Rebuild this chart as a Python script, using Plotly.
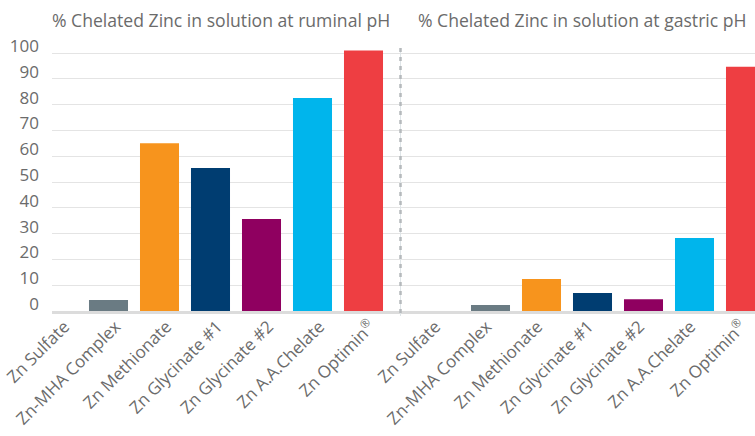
import plotly.graph_objects as go

categories = ["Zn Sulfate", "Zn-MHA Complex", "Zn Methionate", "Zn Glycinate #1",
              "Zn Glycinate #2", "Zn A.A.Chelate", "Zn Optimin<sup>®</sup>"]
ruminal_values = [0, 4.3, 65, 55.4, 35.7, 82.6, 101]
gastric_values = [0, 2.3, 12.4, 7.0, 4.6, 28.3, 94.7]
bar_colors = ["#6a7b83", "#6a7b83", "#f7941d", "#003d71", "#8f0060", "#00b5ec", "#ee3e42"]
y_ticks = [0, 10, 20, 30, 40, 50, 60, 70, 80, 90, 100]
titles = ["% Chelated Zinc in solution at ruminal pH", "% Chelated Zinc in solution at gastric pH"]

W, H = 755, 436
FONT = "Open Sans"
TXT = "#6b6b6b"

def px(x):
    return x / W

def py(y):
    return 1 - y / H

y0_px, unit = 311, 2.58
ytop = 104
ydom = [py(y0_px), py(y0_px - ytop * unit)]
step = 51.0
c_left, c_right = 57.5, 439.5

fig = go.Figure()
fig.add_trace(go.Bar(x=categories, y=ruminal_values, marker_color=bar_colors,
                     marker_line_width=0, xaxis="x", yaxis="y", showlegend=False))
fig.add_trace(go.Bar(x=categories, y=gastric_values, marker_color=bar_colors,
                     marker_line_width=0, xaxis="x2", yaxis="y2", showlegend=False))

xcommon = dict(type="category", showgrid=False, tickangle=-45, ticks="",
               tickfont=dict(family=FONT, size=17, color=TXT),
               ticklabelstandoff=-4,
               showline=True, linecolor="#dcdcdc", linewidth=3,
               automargin=False, fixedrange=True)
fig.update_layout(
    width=W, height=H,
    margin=dict(l=0, r=0, t=0, b=0),
    paper_bgcolor="white", plot_bgcolor="white",
    bargap=0.235,
    font=dict(family=FONT, color=TXT),
    xaxis=dict(domain=[px(52), px(400)],
               range=[(52 - c_left) / step, (400 - c_left) / step],
               anchor="y", ticklabelshift=7, **xcommon),
    xaxis2=dict(domain=[px(400), 1],
                range=[(400 - c_right) / step, (W - c_right) / step],
                anchor="y2", ticklabelshift=-4, **xcommon),
    yaxis=dict(domain=ydom, range=[0, ytop], tickvals=y_ticks,
               showgrid=True, gridcolor="#e4e4e4", gridwidth=1,
               zeroline=False, ticks="", ticklabelstandoff=12, ticklabelshift=-7,
               tickfont=dict(family=FONT, size=17, color=TXT),
               anchor="x", automargin=False, fixedrange=True),
    yaxis2=dict(domain=ydom, range=[0, ytop], tickvals=y_ticks,
                showgrid=True, gridcolor="#e4e4e4", gridwidth=1,
                zeroline=False, showticklabels=False, ticks="",
                anchor="x2", automargin=False, fixedrange=True),
)

fig.add_annotation(x=px(50), y=py(20), xref="paper", yref="paper", text=titles[0],
                   showarrow=False, xanchor="left", yanchor="middle",
                   font=dict(family=FONT, size=17.6, color=TXT))
fig.add_annotation(x=px(416), y=py(20), xref="paper", yref="paper", text=titles[1],
                   showarrow=False, xanchor="left", yanchor="middle",
                   font=dict(family=FONT, size=17.6, color=TXT))

fig.add_shape(type="line", xref="paper", yref="paper",
              x0=px(400.5), x1=px(400.5), y0=py(48), y1=py(316),
              line=dict(color="#dfe5e8", width=1))
fig.add_shape(type="line", xref="paper", yref="paper",
              x0=px(400.5), x1=px(400.5), y0=py(48), y1=py(316),
              line=dict(color="#b5b9bc", width=2.5, dash="4px,5px"))

fig.write_html("out.html", config={"displayModeBar": False},
               post_script="document.body.style.margin='0';")
